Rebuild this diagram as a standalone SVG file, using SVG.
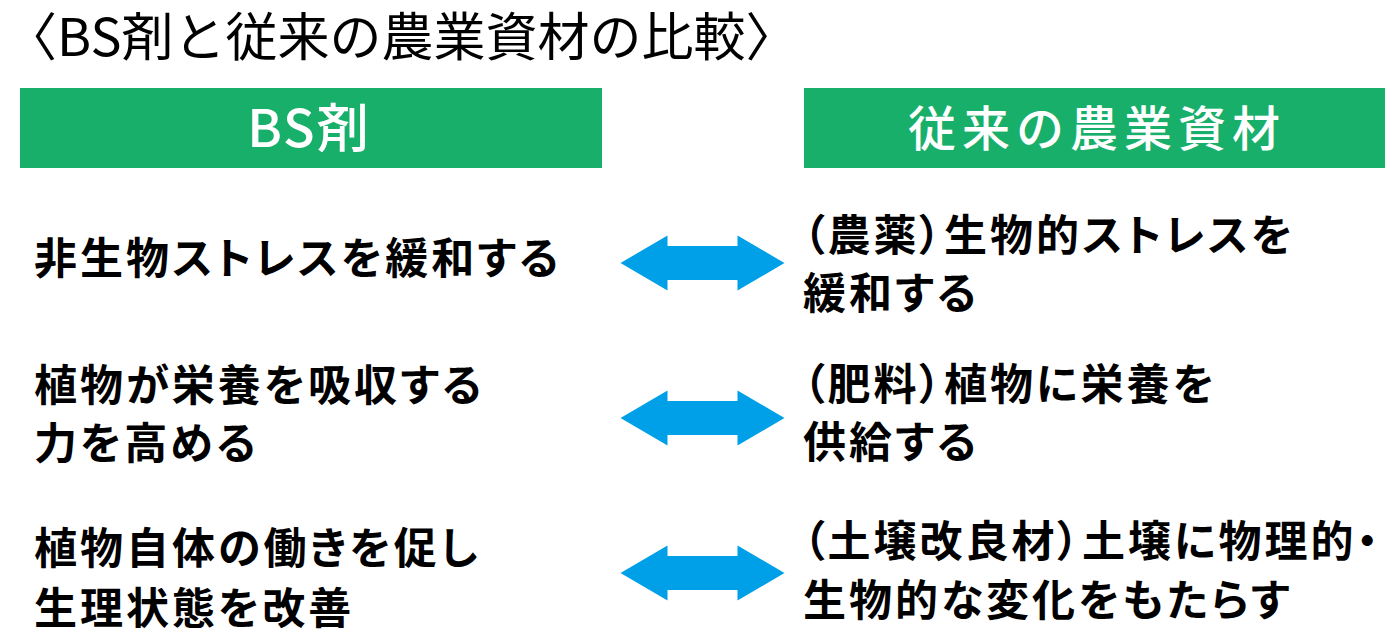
<svg xmlns="http://www.w3.org/2000/svg" width="1400" height="640" viewBox="0 0 1400 640">
<defs>
<style>
.t{font-family:"Noto Sans CJK JP","Noto Sans",sans-serif;fill:#000}
.title{font-size:52px;font-weight:400}
.hd{font-size:48px;font-weight:500;fill:#fff;letter-spacing:6px}
.hbs{font-size:52px;letter-spacing:2px}
.body{font-size:43px;font-weight:700;letter-spacing:3px;font-feature-settings:"palt"}
.hbox{fill:#17AF6A}
.arr{fill:#00A0E9}
</style>
<path id="dbl" d="M-82,0 L-35,-27.5 L-35,-17 L35,-17 L35,-27.5 L82,0 L35,27.5 L35,17 L-35,17 L-35,27.5 Z"/>
</defs>
<rect width="1400" height="640" fill="#fff"/>
<g id="title"><text class="t title" x="5" y="56">〈BS剤と従来の農業資材の比較〉</text></g>
<g id="header-bs">
<rect class="hbox" x="20" y="88" width="582" height="80"/>
<text class="t hd hbs" x="309" y="147" text-anchor="middle">BS剤</text>
</g>
<g id="header-conv">
<rect class="hbox" x="804" y="88" width="581" height="80"/>
<text class="t hd" x="1097" y="146" text-anchor="middle">従来の農業資材</text>
</g>
<g id="bs1"><text class="t body" x="34" y="274">非生物ストレスを緩和する</text></g>
<g id="bs2"><text class="t body" x="34" y="401">植物が栄養を吸収する</text><text class="t body" x="34" y="459">力を高める</text></g>
<g id="bs3"><text class="t body" x="34" y="564">植物自体の働きを促し</text><text class="t body" x="34" y="624">生理状態を改善</text></g>
<g id="conv1"><text class="t body" x="803" y="251">（農薬）生物的ストレスを</text><text class="t body" x="803" y="309">緩和する</text></g>
<g id="conv2"><text class="t body" x="803" y="400">（肥料）植物に栄養を</text><text class="t body" x="803" y="458">供給する</text></g>
<g id="conv3"><text class="t body" x="803" y="557">（土壌改良材）土壌に物理的・</text><text class="t body" x="803" y="616">生物的な変化をもたらす</text></g>
<g id="connectors">
<use href="#dbl" class="arr" x="702.5" y="263"/>
<use href="#dbl" class="arr" x="702.5" y="418"/>
<use href="#dbl" class="arr" x="702.5" y="573"/>
</g>
</svg>
